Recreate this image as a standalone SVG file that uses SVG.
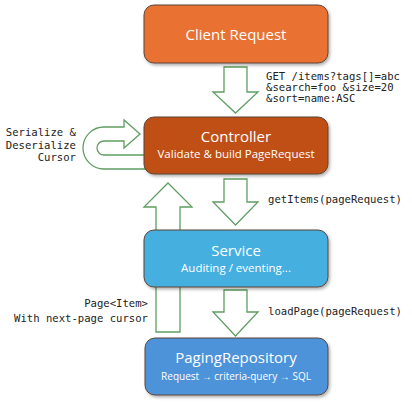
<svg xmlns="http://www.w3.org/2000/svg" width="412" height="408" viewBox="0 0 412 408">
<defs>
<filter id="sh" x="-10%" y="-10%" width="125%" height="130%">
<feDropShadow dx="1.5" dy="2" stdDeviation="1.5" flood-color="#000" flood-opacity="0.3"/>
</filter>
<style>
.box{stroke:#5c4536;stroke-width:1;filter:url(#sh)}
.arr{fill:#fff;stroke:#5f9e62;stroke-width:1.3;stroke-linejoin:miter}
.t{font-family:"Open Sans","Liberation Sans",sans-serif;fill:#fff;text-anchor:middle}
.h{font-size:15px}
.s{font-size:11.5px}
.m{font-family:"DejaVu Sans Mono","Liberation Mono",monospace;font-size:10.6px;fill:#222}
.r{text-anchor:end}
</style>
</defs>
<g id="connectors">
<path class="arr" d="M146,169 L104,169 A21,21 0 0 1 104,127 L124,127 L124,120 L140,134 L124,148 L124,141 L104,141 A7,7 0 0 0 104,155 L146,155 Z"/>
<polygon class="arr" points="168,183 192,207 180,207 180,332 156,332 156,207 144,207"/>
<polygon class="arr" points="224,67 247,67 247,92 258,92 235.5,113 213,92 224,92"/>
<polygon class="arr" points="224,179 247,179 247,202 258,202 235.5,225 213,202 224,202"/>
<polygon class="arr" points="224,290 247,290 247,312 258,312 235.5,336 213,312 224,312"/>
<text class="m" x="266" y="80">GET /items?tags[]=abc</text>
<text class="m" x="266" y="91">&amp;search=foo &amp;size=20</text>
<text class="m" x="266" y="102">&amp;sort=name:ASC</text>
<text class="m r" x="76" y="136">Serialize &amp;</text>
<text class="m r" x="76" y="148.5">Deserialize</text>
<text class="m r" x="76" y="161">Cursor</text>
<text class="m" x="268" y="203">getItems(pageRequest)</text>
<text class="m" x="268" y="315">loadPage(pageRequest)</text>
<text class="m r" x="148" y="307">Page&lt;Item&gt;</text>
<text class="m r" x="148" y="322">With next-page cursor</text>
</g>
<g id="client">
<rect class="box" x="144" y="5" width="184" height="58" rx="10" fill="#e97132"/>
<text class="t h" x="236" y="40">Client Request</text>
</g>
<g id="controller">
<rect class="box" x="144" y="117" width="184" height="57" rx="10" fill="#c04f15"/>
<text class="t h" x="236" y="142">Controller</text>
<text class="t s" x="236" y="158">Validate &amp; build PageRequest</text>
</g>
<g id="service">
<rect class="box" x="144" y="230" width="184" height="57" rx="10" fill="#45afe0"/>
<text class="t h" x="236" y="256">Service</text>
<text class="t s" x="236" y="272">Auditing / eventing...</text>
</g>
<g id="repository">
<rect class="box" x="145" y="338" width="183" height="57" rx="10" fill="#4d93da"/>
<text class="t h" x="236" y="363">PagingRepository</text>
<text class="t" x="236" y="380" style="font-size:10px">Request → criteria-query → SQL</text>
</g>
</svg>
